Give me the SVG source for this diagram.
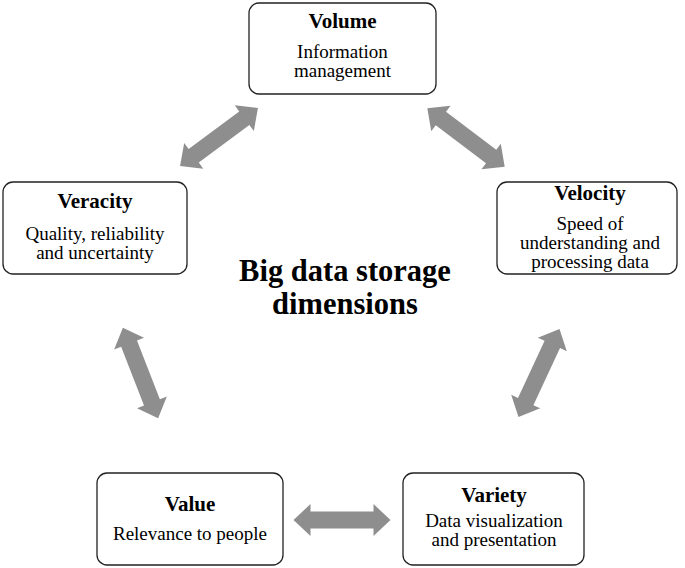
<svg xmlns="http://www.w3.org/2000/svg" width="685" height="568" viewBox="0 0 685 568">
<style>
.box{fill:#fff;stroke:#222;stroke-width:1.3}
.t{font-family:"Liberation Serif","Times New Roman",serif;font-size:21px;font-weight:bold;text-anchor:middle;fill:#000}
.d{font-family:"Liberation Serif","Times New Roman",serif;font-size:19px;text-anchor:middle;fill:#000}
.c{font-family:"Liberation Serif","Times New Roman",serif;font-size:30.5px;font-weight:bold;text-anchor:middle;fill:#000}
.arr{fill:#8e8e8e}
</style>
<defs>
<polygon id="da" class="arr" points="-48.5,0 -31.5,-16 -31.5,-8.5 31.5,-8.5 31.5,-16 48.5,0 31.5,16 31.5,8.5 -31.5,8.5 -31.5,16"/>
</defs>
<rect width="685" height="568" fill="#fff"/>
<g id="connectors">
<use href="#da" transform="translate(219,137) rotate(-36.6)"/>
<use href="#da" transform="translate(466,137.5) rotate(37.1)"/>
<use href="#da" transform="translate(140.5,373) rotate(68.7)"/>
<use href="#da" transform="translate(539,373) rotate(115)"/>
<use href="#da" transform="translate(342,520)"/>
</g>
<g id="volume">
<rect class="box" x="249" y="3" width="187" height="91" rx="10"/>
<text class="t" x="342.5" y="28">Volume</text>
<text class="d" x="342.5" y="58">Information</text>
<text class="d" x="342.5" y="77">management</text>
</g>
<g id="veracity">
<rect class="box" x="3" y="182" width="184" height="92" rx="10"/>
<text class="t" x="95" y="208">Veracity</text>
<text class="d" x="95" y="240">Quality, reliability</text>
<text class="d" x="95" y="259">and uncertainty</text>
</g>
<g id="velocity">
<rect class="box" x="497" y="182" width="180" height="92" rx="10"/>
<text class="t" x="590" y="200">Velocity</text>
<text class="d" x="590" y="230">Speed of</text>
<text class="d" x="590" y="249">understanding and</text>
<text class="d" x="590" y="268">processing data</text>
</g>
<g id="value">
<rect class="box" x="97" y="473" width="186" height="92" rx="10"/>
<text class="t" x="190" y="511">Value</text>
<text class="d" x="190" y="540">Relevance to people</text>
</g>
<g id="variety">
<rect class="box" x="403" y="473" width="181" height="92" rx="10"/>
<text class="t" x="494" y="502">Variety</text>
<text class="d" x="494" y="527">Data visualization</text>
<text class="d" x="494" y="546">and presentation</text>
</g>
<g id="title">
<text class="c" x="345" y="281">Big data storage</text>
<text class="c" x="345" y="314">dimensions</text>
</g>
</svg>
